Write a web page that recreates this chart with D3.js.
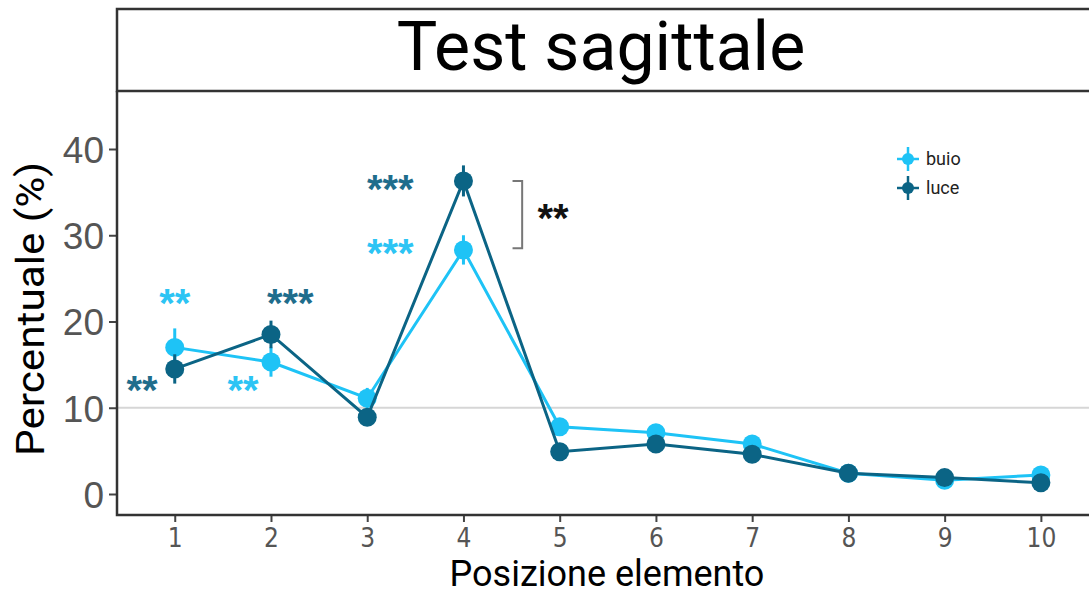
<!DOCTYPE html>
<html>
<head>
<meta charset="utf-8">
<script src="https://cdn.jsdelivr.net/npm/d3@7"></script>
<style>
  body { margin: 0; background: #fff; }
  svg { display: block; }
</style>
</head>
<body>
<div id="chart"></div>
<script>
// values
var positions = [1, 2, 3, 4, 5, 6, 7, 8, 9, 10]
var buio = [17.0, 15.3, 11.1, 28.3, 7.8, 7.1, 5.8, 2.4, 1.6, 2.2]
var buioSE = [2.2, 1.7, 1.2, 1.7, 0.6, 0.8, 0.7, 0.4, 0.4, 0.4]
var luce = [14.5, 18.5, 8.9, 36.3, 4.9, 5.8, 4.6, 2.4, 1.9, 1.3]
var luceSE = [1.7, 1.6, 1.0, 1.8, 0.5, 0.8, 0.9, 0.4, 0.4, 0.4]
var yTicks = [0, 10, 20, 30, 40]
var refLine = 10

// significance labels: position (x in element units, y in %)
var stars = [
  { x: 1.0, y: 22.7, label: '**', group: 'buio' },
  { x: 0.66, y: 12.6, label: '**', group: 'luce' },
  { x: 2.2, y: 22.7, label: '***', group: 'luce' },
  { x: 1.71, y: 12.6, label: '**', group: 'buio' },
  { x: 3.24, y: 35.9, label: '***', group: 'luce' },
  { x: 3.24, y: 28.4, label: '***', group: 'buio' },
  { x: 4.93, y: 32.5, label: '**', group: 'diff' }
]
var bracket = { x0: 4.51, x1: 4.61, yTop: 36.3, yBottom: 28.5 }

var colors = { buio: '#1ec3f6', luce: '#0b6485', diff: '#111' }
var starColors = { buio: '#2cc4f4', luce: '#1f6d8c', diff: '#111' }

var svgWidth = 1089
var svgHeight = 595

var svg = d3.select('#chart')
  .append('svg')
  .attr('width', svgWidth)
  .attr('height', svgHeight)

var plotLeft = 117
var plotRight = 1089
var plotTop = 91
var plotBottom = 515

var x = d3.scaleLinear().domain([0.4, 10.5]).range([plotLeft, plotRight])
var y = d3.scaleLinear().domain([0, 40]).range([494, 149])

// title strip
svg.append('path')
  .attr('d', `M${svgWidth + 5},9 H${plotLeft} V${plotTop} H${svgWidth + 5}`)
  .attr('fill', 'none')
  .attr('stroke', '#333')
  .attr('stroke-width', 2.5)

svg.append('text')
  .attr('x', 601)
  .attr('y', 70)
  .attr('text-anchor', 'middle')
  .attr('font-family', 'Roboto')
  .attr('font-size', 68)
  .attr('fill', '#000')
  .text('Test sagittale')

// reference line
svg.append('line')
  .attr('x1', plotLeft)
  .attr('x2', plotRight)
  .attr('y1', y(refLine))
  .attr('y2', y(refLine))
  .attr('stroke', '#d6d6d6')
  .attr('stroke-width', 2)

// axes
var yAxis = svg.append('g')
  .attr('transform', `translate(${plotLeft},0)`)
  .call(d3.axisLeft(y).tickValues(yTicks).tickSize(8).tickPadding(5))
yAxis.select('.domain').remove()
yAxis.selectAll('line').attr('stroke', '#444').attr('stroke-width', 2)
yAxis.selectAll('text')
  .attr('font-family', 'Liberation Sans, Arial')
  .attr('font-size', 37)
  .attr('fill', '#555')
  .attr('dy', '0.36em')

var xAxis = svg.append('g')
  .attr('transform', `translate(0,${plotBottom})`)
  .call(d3.axisBottom(x).tickValues(positions).tickFormat(d3.format('d')).tickSize(7).tickPadding(7))
xAxis.select('.domain').remove()
xAxis.selectAll('line').attr('stroke', '#444').attr('stroke-width', 2)
xAxis.selectAll('text')
  .attr('font-family', 'Liberation Sans Narrow, DejaVu Sans Condensed, Arial')
  .attr('font-size', 26)
  .attr('fill', '#555')

svg.append('path')
  .attr('d', `M${plotLeft},${plotTop} V${plotBottom} H${plotRight}`)
  .attr('fill', 'none')
  .attr('stroke', '#333')
  .attr('stroke-width', 2.5)

// axis titles
svg.append('text')
  .attr('x', 607)
  .attr('y', 586)
  .attr('text-anchor', 'middle')
  .attr('font-family', 'Roboto')
  .attr('font-size', 36)
  .attr('fill', '#000')
  .text('Posizione elemento')

svg.append('text')
  .attr('transform', 'translate(44,309) rotate(-90)')
  .attr('text-anchor', 'middle')
  .attr('font-family', 'Roboto')
  .attr('font-size', 39)
  .attr('textLength', 294)
  .attr('lengthAdjust', 'spacingAndGlyphs')
  .attr('fill', '#000')
  .text('Percentuale (%)')

// series
var series = [
  { name: 'buio', values: buio, se: buioSE },
  { name: 'luce', values: luce, se: luceSE }
]

var line = d3.line()
  .x(d => x(d.pos))
  .y(d => y(d.val))

series.forEach(function (s) {
  var pts = positions.map((p, i) => ({ pos: p, val: s.values[i], se: s.se[i] }))
  var g = svg.append('g')
  g.append('path')
    .datum(pts)
    .attr('d', line)
    .attr('fill', 'none')
    .attr('stroke', colors[s.name])
    .attr('stroke-width', 3)
  g.selectAll('.err')
    .data(pts)
    .enter()
    .append('line')
    .attr('x1', d => x(d.pos))
    .attr('x2', d => x(d.pos))
    .attr('y1', d => y(d.val - d.se))
    .attr('y2', d => y(d.val + d.se))
    .attr('stroke', colors[s.name])
    .attr('stroke-width', 3)
  g.selectAll('circle')
    .data(pts)
    .enter()
    .append('circle')
    .attr('cx', d => x(d.pos))
    .attr('cy', d => y(d.val))
    .attr('r', 9.5)
    .attr('fill', colors[s.name])
})

// stars
var starSize = 40
svg.selectAll('.star')
  .data(stars)
  .enter()
  .append('text')
  .attr('x', d => x(d.x))
  .attr('y', d => y(d.y) + starSize * 0.46)
  .attr('text-anchor', 'middle')
  .attr('font-family', 'Liberation Sans, Arial')
  .attr('font-weight', 'bold')
  .attr('font-size', starSize)
  .attr('fill', d => starColors[d.group])
  .text(d => d.label)

// bracket between the two series at position 4
svg.append('path')
  .attr('d', `M${x(bracket.x0)},${y(bracket.yTop)} H${x(bracket.x1)} V${y(bracket.yBottom)} H${x(bracket.x0)}`)
  .attr('fill', 'none')
  .attr('stroke', '#777')
  .attr('stroke-width', 2)

// legend
var legend = svg.append('g').attr('transform', 'translate(908,159)')
series.forEach(function (s, i) {
  var lg = legend.append('g').attr('transform', `translate(0,${i * 29})`)
  lg.append('line').attr('x1', -11).attr('x2', 11).attr('stroke', colors[s.name]).attr('stroke-width', 2.5)
  lg.append('line').attr('y1', -12).attr('y2', 12).attr('stroke', colors[s.name]).attr('stroke-width', 2.5)
  lg.append('circle').attr('r', 6).attr('fill', colors[s.name])
  lg.append('text')
    .attr('x', 18)
    .attr('dy', '0.35em')
    .attr('font-family', 'Roboto')
    .attr('font-size', 18)
    .attr('fill', '#222')
    .text(s.name)
})
</script>
</body>
</html>
